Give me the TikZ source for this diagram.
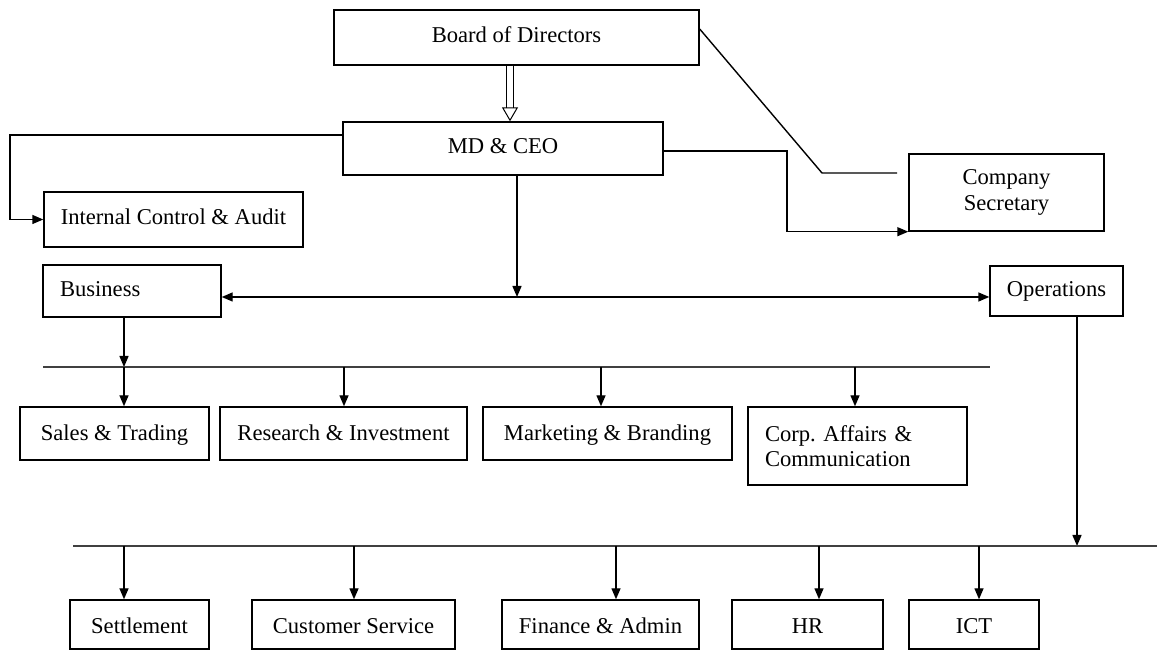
\documentclass[tikz,border=0pt]{standalone}
\usepackage{fontspec}
\setmainfont{Liberation Serif}
\usetikzlibrary{arrows.meta, positioning}

\tikzset{
    frame/.style={draw, line width=0.7pt, rectangle, inner sep=0pt, font=\fontsize{11.3}{13}\selectfont},
    unit/.style={frame, text height=7.8pt, text depth=2.6pt},
    unitmid/.style={frame, text height=9.6pt, text depth=2.6pt},
    unitlow/.style={frame, text height=11.4pt, text depth=2.6pt},
    link/.style={line width=0.7pt},
    rail/.style={line width=0.9pt, black!75},
    arr/.style={line width=0.7pt, -{Triangle[length=5.5pt, width=4.5pt]}},
    hollow/.style={line width=0.5pt, double, double distance=2.6pt, -{Triangle[open, length=7pt, width=8pt]}}
}

\begin{document}
\frenchspacing
\begin{tikzpicture}[x=0.5pt, y=-0.5pt]
    \useasboundingbox (0,0) rectangle (1157,651);

    % Top of the chart
    \node[unit, minimum width=182.5pt, minimum height=27.5pt] (board) at (516.5,37.5) {Board of Directors};
    \node[unit, minimum width=160pt, minimum height=26.5pt] (ceo) at (503,148.5) {MD \& CEO};
    \node[unit, minimum width=129.5pt, minimum height=27.5pt] (audit) at (173.5,219.5) {Internal Control \& Audit};
    \node[frame, minimum width=97.5pt, minimum height=38.5pt, align=center] (secretary) at (1006.5,192.5) {Company\\Secretary};

    % Two branches
    \node[unit, minimum width=89pt, minimum height=26pt, text width=72pt, align=left] (business) at (132,291) {Business};
    \node[unit, minimum width=66.5pt, minimum height=25pt] (operations) at (1056.5,291) {Operations};

    % Business units
    \node[unitmid, minimum width=94.5pt, minimum height=26.5pt] (sales) at (114.5,433.5) {Sales \& Trading};
    \node[unitmid, minimum width=123.5pt, minimum height=26.5pt] (research) at (343.5,433.5) {Research \& Investment};
    \node[unitmid, minimum width=124.5pt, minimum height=26.5pt] (marketing) at (607.5,433.5) {Marketing \& Branding};
    \node[frame, minimum width=109.5pt, minimum height=39pt, text width=92.5pt, align=left, font=\fontsize{11.3}{12.5}\selectfont] (corp) at (857.5,446) {Corp. Affairs \&\\Communication};

    % Operations units
    \node[unitlow, minimum width=69.5pt, minimum height=24.5pt] (settle) at (139.5,624.5) {Settlement};
    \node[unitlow, minimum width=101.5pt, minimum height=24.5pt] (service) at (353.5,624.5) {Customer Service};
    \node[unitlow, minimum width=98.5pt, minimum height=24.5pt] (finance) at (600.5,624.5) {Finance \& Admin};
    \node[unitlow, minimum width=75.5pt, minimum height=24.5pt] (hr) at (807.5,624.5) {HR};
    \node[unitlow, minimum width=65pt, minimum height=24.5pt] (ict) at (974,624.5) {ICT};

    % Bends and rails
    \coordinate (leftrail) at (10,0);
    \coordinate (secbend) at (787,0);
    \coordinate (secknee) at (822,173);
    \coordinate (secend) at (897,173);
    \coordinate (hub) at (517,297);
    \coordinate (busdrop) at (124,367);
    \coordinate (railA) at (43,367);
    \coordinate (railB) at (990,367);
    \coordinate (railC) at (73,546);
    \coordinate (railD) at (1157,546);

    % Arrows
    \draw[hollow] ([xshift=-3.25pt]board.south) -- ([xshift=-3.25pt]board.south |- ceo.north);
    \draw[arr] ([yshift=6.75pt]ceo.west) -| (leftrail |- audit.west) -- (audit.west);
    \draw[arr] ([yshift=-1.25pt]ceo.east) -| (secbend |- secretary.south west) -- (secretary.south west);
    \draw[link] ([yshift=4.25pt]board.east) -- (secknee) -- (secend);
    \draw[arr] (ceo.south -| hub) -- (hub);
    \draw[line width=0.7pt, {Triangle[length=5.5pt, width=4.5pt]}-{Triangle[length=5.5pt, width=4.5pt]}] (business.east |- hub) -- (operations.west |- hub);

    \draw[arr] (business.south -| busdrop) -- (busdrop);
    \draw[rail] (railA) -- (railB);
    \foreach \n/\s in {sales/4.75pt, research/0.25pt, marketing/-3.25pt, corp/-1.25pt}
        \draw[arr] ([xshift=\s]\n.north |- railA) -- ([xshift=\s]\n.north);

    \draw[arr] ([xshift=10.25pt]operations.south) -- ([xshift=10.25pt]operations.south |- railC);
    \draw[rail] (railC) -- (railD);
    \foreach \n/\s in {settle/-7.75pt, service/0.25pt, finance/7.75pt, hr/5.75pt, ict/2.5pt}
        \draw[arr] ([xshift=\s]\n.north |- railC) -- ([xshift=\s]\n.north);
\end{tikzpicture}
\end{document}
